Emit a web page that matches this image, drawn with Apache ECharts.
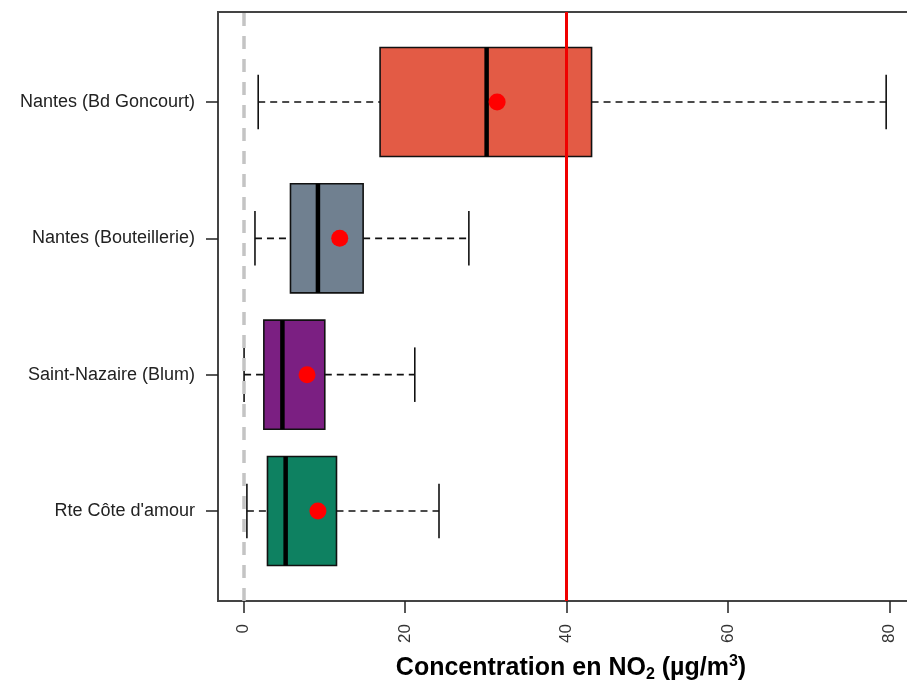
<!DOCTYPE html>
<html>
<head>
<meta charset="utf-8">
<script src="https://cdn.jsdelivr.net/npm/echarts@6/dist/echarts.min.js"></script>
<style>html,body{margin:0;padding:0;background:#fff;overflow:hidden}#c{width:907px;height:686px}</style>
</head>
<body>
<div id="c"></div>
<script>
// ---- data (top-to-bottom display order) ----
var categories = ['Nantes (Bd Goncourt)', 'Nantes (Bouteillerie)', 'Saint-Nazaire (Blum)', "Rte Côte d'amour"];
var whiskerLow  = [1.8, 1.4, 0.05, 0.4];
var q1          = [16.9, 5.8, 2.5, 2.95];
var median      = [30.1, 9.2, 4.8, 5.2];
var q3          = [43.1, 14.8, 10.05, 11.5];
var whiskerHigh = [79.6, 27.9, 21.2, 24.2];
var means       = [31.4, 11.9, 7.85, 9.2];
var xTicks = [0, 20, 40, 60, 80];
var limitValue = 40;
var zeroValue = 0;

// ---- styles ----
var boxColors = ['#E35B45', '#708090', '#7B1F82', '#0E8161'];
var FONT = 'Liberation Sans, Arial, Helvetica, sans-serif';

var n = categories.length;
var positions = categories.map(function (c, i) { return n - i; });
var boxData = categories.map(function (c, i) {
  return [positions[i], whiskerLow[i], q1[i], median[i], q3[i], whiskerHigh[i], i];
});
var meanData = categories.map(function (c, i) { return [means[i], positions[i]]; });

var chart = echarts.init(document.getElementById('c'), null, {renderer: 'canvas'});

function renderBox(params, api) {
  var pos = api.value(0), lo = api.value(1), a = api.value(2), md = api.value(3),
      b = api.value(4), hi = api.value(5), idx = api.value(6);
  var half = 0.4, cap = 0.2;
  var pLo = api.coord([lo, pos]), pA = api.coord([a, pos]), pB = api.coord([b, pos]), pHi = api.coord([hi, pos]);
  var top = api.coord([a, pos + half])[1], bot = api.coord([a, pos - half])[1];
  var cTop = api.coord([a, pos + cap])[1], cBot = api.coord([a, pos - cap])[1];
  var pMd = api.coord([md, pos]);
  var dash = {stroke: '#111', lineWidth: 1.6, lineDash: [7, 5]};
  var solid = {stroke: '#111', lineWidth: 1.6};
  return {
    type: 'group',
    children: [
      {type: 'line', shape: {x1: pLo[0], y1: pLo[1], x2: pA[0], y2: pA[1]}, style: dash},
      {type: 'line', shape: {x1: pB[0], y1: pB[1], x2: pHi[0], y2: pHi[1]}, style: dash},
      {type: 'line', shape: {x1: pLo[0], y1: cTop, x2: pLo[0], y2: cBot}, style: solid},
      {type: 'line', shape: {x1: pHi[0], y1: cTop, x2: pHi[0], y2: cBot}, style: solid},
      {type: 'rect', shape: {x: pA[0], y: top, width: pB[0] - pA[0], height: bot - top},
        style: {fill: boxColors[idx], stroke: '#111', lineWidth: 1.6}},
      {type: 'line', shape: {x1: pMd[0], y1: top, x2: pMd[0], y2: bot}, style: {stroke: '#000', lineWidth: 4.5}}
    ]
  };
}

var option = {
  animation: false,
  backgroundColor: '#ffffff',
  grid: {left: 218, top: 12, width: 694, height: 589, containLabel: false, outerBoundsMode: 'none',
    show: true, borderColor: '#444', borderWidth: 2, backgroundColor: 'transparent'},
  xAxis: {
    type: 'value', min: -3.18, max: 82.8,
    axisLine: {show: true, onZero: false, lineStyle: {color: '#444', width: 2}},
    axisTick: {show: true, length: 12, customValues: xTicks, lineStyle: {color: '#222', width: 1.5}},
    axisLabel: {show: true, customValues: xTicks, rotate: 90, margin: 23, color: '#333', fontSize: 17, fontFamily: FONT},
    splitLine: {show: false}
  },
  yAxis: {
    type: 'value', min: 0.34, max: 4.66,
    axisLine: {show: true, onZero: false, lineStyle: {color: '#444', width: 2}},
    axisTick: {show: true, length: 12, customValues: positions, lineStyle: {color: '#222', width: 1.5}},
    axisLabel: {show: true, customValues: positions, margin: 23, color: '#222', fontSize: 18, fontFamily: FONT,
      formatter: function (v) { var i = n - Math.round(v); return categories[i] || ''; }},
    splitLine: {show: false}
  },
  graphic: [{
    type: 'text', x: 571, y: 668,
    style: {
      text: '{b|Concentration en NO}{sub|2}{b| (µg/m}{sup|3}{b|)}',
      textAlign: 'center', textVerticalAlign: 'middle',
      rich: {
        b: {fontSize: 25, fontWeight: 'bold', fontFamily: FONT, lineHeight: 30, fill: '#000', color: '#000'},
        sub: {fontSize: 16, fontWeight: 'bold', fontFamily: FONT, lineHeight: 16, padding: [14, 0, 0, 0], fill: '#000', color: '#000'},
        sup: {fontSize: 16, fontWeight: 'bold', fontFamily: FONT, lineHeight: 16, padding: [1, 0, 13, 0], fill: '#000', color: '#000'}
      }
    }
  }],
  series: [
    {type: 'custom', renderItem: renderBox, data: boxData, z: 2,
      encode: {x: [1, 2, 3, 4, 5], y: 0}, silent: true},
    {type: 'line', data: [], z: 3, silent: true,
      markLine: {symbol: 'none', silent: true, animation: false, label: {show: false},
        data: [
          {xAxis: zeroValue, lineStyle: {color: '#C4C4C4', width: 3.5, type: [13, 10]}},
          {xAxis: limitValue, lineStyle: {color: '#F00000', width: 3, type: 'solid'}}
        ]}},
    {type: 'scatter', data: meanData, z: 5, symbol: 'circle', symbolSize: 17, silent: true,
      itemStyle: {color: '#FF0000', opacity: 1}}
  ]
};
chart.setOption(option);
</script>
</body>
</html>
